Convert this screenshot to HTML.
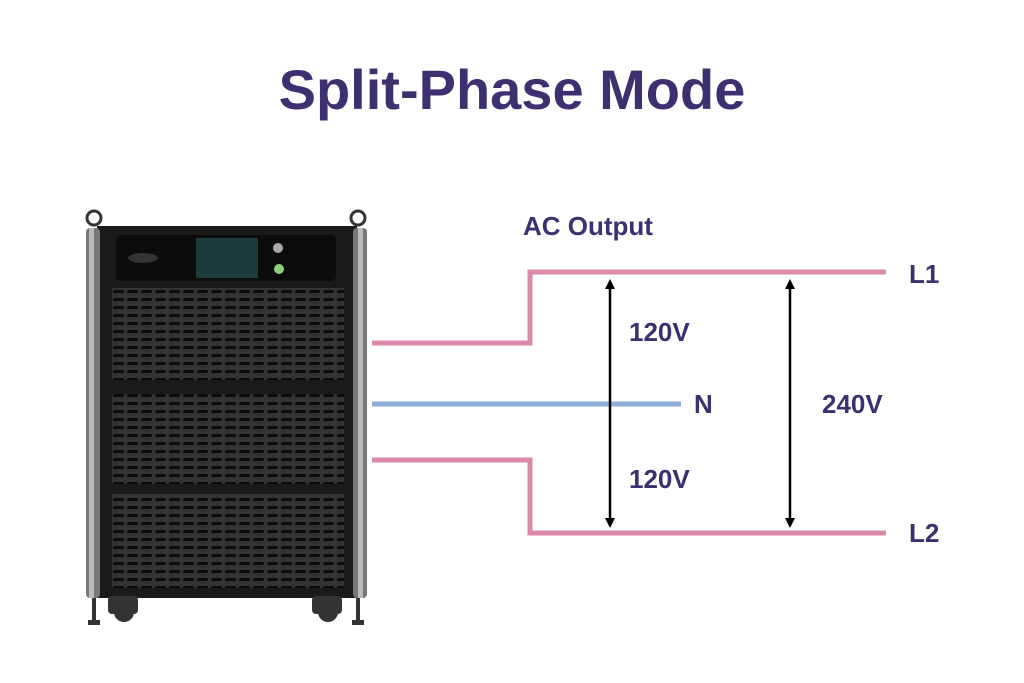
<!DOCTYPE html>
<html><head><meta charset="utf-8"><style>
html,body{margin:0;padding:0;background:#fff;}
body{width:1024px;height:683px;position:relative;overflow:hidden;font-family:"Liberation Sans",sans-serif;}
.t{position:absolute;color:#3d2f70;font-weight:bold;white-space:nowrap;}
</style></head><body>
<div class="t" style="left:0;width:1024px;text-align:center;top:57px;font-size:56px;">Split-Phase Mode</div>
<div class="t" style="left:523px;top:211px;font-size:26px;">AC Output</div>
<div class="t" style="left:909px;top:259px;font-size:26px;">L1</div>
<div class="t" style="left:909px;top:518px;font-size:26px;">L2</div>
<div class="t" style="left:694px;top:389px;font-size:26px;">N</div>
<div class="t" style="left:629px;top:317px;font-size:26px;">120V</div>
<div class="t" style="left:629px;top:464px;font-size:26px;">120V</div>
<div class="t" style="left:822px;top:389px;font-size:26px;">240V</div>
<svg width="1024" height="683" style="position:absolute;left:0;top:0">
<defs>
<pattern id="p" width="14" height="8" patternUnits="userSpaceOnUse">
<rect width="14" height="8" fill="#333"/><rect x="1" y="2" width="11" height="3" rx="1.5" fill="#0a0a0a"/>
</pattern>
<marker id="a" viewBox="0 0 10 10" refX="5" refY="5" markerWidth="4" markerHeight="4" orient="auto-start-reverse"><path d="M0,0L10,5L0,10z" fill="#000"/></marker>
</defs>
<g fill="none" stroke="#dc88ab" stroke-width="5">
<polyline points="372,343 530,343 530,272 886,272"/>
<polyline points="372,460 530,460 530,533 886,533"/>
</g>
<line x1="372" y1="404" x2="681" y2="404" stroke="#8caed8" stroke-width="5"/>
<g stroke="#000" stroke-width="2.5">
<line x1="610" y1="284" x2="610" y2="523" marker-start="url(#a)" marker-end="url(#a)"/>
<line x1="790" y1="284" x2="790" y2="523" marker-start="url(#a)" marker-end="url(#a)"/>
</g>
<circle cx="94" cy="218" r="7" fill="none" stroke="#333" stroke-width="3"/>
<circle cx="358" cy="218" r="7" fill="none" stroke="#333" stroke-width="3"/>
<rect x="97" y="226" width="260" height="372" fill="#1a1a1a"/>
<rect x="86" y="228" width="14" height="370" rx="4" fill="#777"/>
<rect x="89" y="228" width="5" height="370" fill="#bbb"/>
<rect x="353" y="228" width="14" height="370" rx="4" fill="#777"/>
<rect x="358" y="228" width="5" height="370" fill="#bbb"/>
<rect x="116" y="235" width="220" height="46" rx="5" fill="#0c0c0c"/>
<rect x="196" y="238" width="62" height="40" fill="#1d3b3a"/>
<ellipse cx="143" cy="258" rx="15" ry="5" fill="#333"/>
<circle cx="278" cy="248" r="5" fill="#aaa"/>
<circle cx="279" cy="269" r="5" fill="#8ecf7a"/>
<rect x="112" y="288" width="232" height="92" fill="url(#p)"/>
<rect x="112" y="394" width="232" height="90" fill="url(#p)"/>
<rect x="112" y="494" width="232" height="94" fill="url(#p)"/>
<g fill="#333">
<rect x="92" y="598" width="4" height="22"/><rect x="88" y="620" width="12" height="5"/>
<rect x="356" y="598" width="4" height="22"/><rect x="352" y="620" width="12" height="5"/>
<rect x="108" y="596" width="30" height="18" rx="4"/><circle cx="124" cy="612" r="10"/>
<rect x="312" y="596" width="30" height="18" rx="4"/><circle cx="328" cy="612" r="10"/>
</g>
</svg>
</body></html>
